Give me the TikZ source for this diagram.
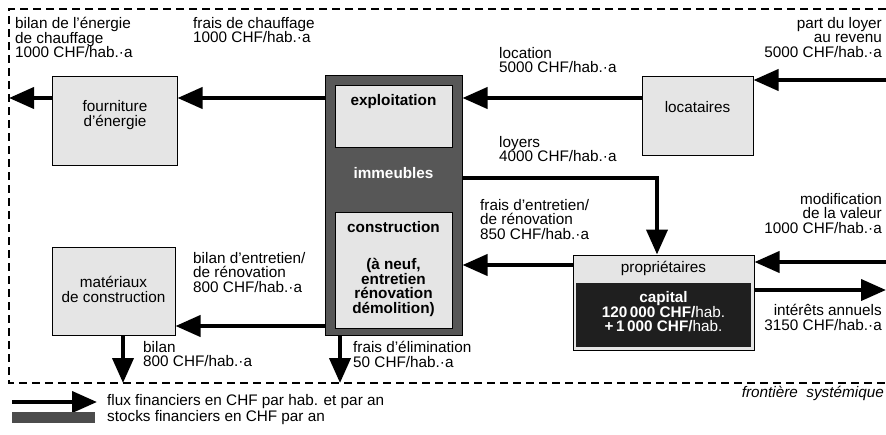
\documentclass[tikz,border=0pt]{standalone}
\usepackage{fontspec}
\setmainfont{Liberation Sans}
\usetikzlibrary{arrows.meta}
\newcommand\fs{\fontsize{15.3}{14.6}\selectfont}
\begin{document}
\begin{tikzpicture}[x=1pt,y=-1pt,
  flow/.style={line width=4pt, line join=miter, -{Triangle[length=25pt,width=21pt]}},
  border/.style={line width=1.1pt, dash pattern=on 8pt off 5pt},
  lightbox/.style={draw, line width=1pt, fill=black!10, inner sep=0},
  darkbox/.style={draw, line width=1pt, fill=black!66, inner sep=0},
  capbox/.style={fill=black!88, inner sep=0},
  lbl/.style={align=left, anchor=north west, inner sep=0, font=\fs},
  rlbl/.style={align=right, anchor=north east, inner sep=0, font=\fs},
  txt/.style={align=center, inner sep=0, font=\fs},
  btxt/.style={align=center, inner sep=0, font=\fs\bfseries},
]
\useasboundingbox (0,0) rectangle (886,434);
% system border
\draw[border] (886,9) -- (9,9) -- (9,383) -- (886,383);
% coordinates
\coordinate (Lb) at (9,98);
\coordinate (yA) at (0,98);
\coordinate (Rin1) at (886,80);
\coordinate (kL) at (657,178);
\coordinate (yP) at (0,265);
\coordinate (Rin2) at (886,262);
\coordinate (Rout) at (886,290);
\coordinate (yM) at (0,326);
\coordinate (bM) at (123,383);
\coordinate (bI) at (340,383);
\coordinate (legA) at (12,402);
\coordinate (legB) at (97,402);
% boxes
\node[lightbox, minimum width=125, minimum height=89] (fourn) at (114.5,120.5) {};
\node[txt] (fournT) at (115,115) {fourniture\\d'énergie};
\node[lightbox, minimum width=111, minimum height=79] (loc) at (697.5,115.5) {};
\node[txt] (locT) at (697.5,107) {locataires};
\node[lightbox, minimum width=123, minimum height=88] (mat) at (113.5,291) {};
\node[txt] (matT) at (113.5,289.5) {matériaux\\de construction};
\node[darkbox, minimum width=137, minimum height=260] (imm) at (393.5,205) {};
\node[lightbox, line width=0.6pt, minimum width=117, minimum height=62] (expl) at (393.5,116) {};
\node[btxt] (explT) at (393.5,102) {exploitation};
\node[btxt, text=white] (immT) at (393.5,173) {immeubles};
\node[lightbox, line width=0.6pt, minimum width=117, minimum height=116] (constr) at (393.5,270) {};
\node[btxt] (constrT) at (393.5,227) {construction};
\node[btxt] (constrT2) at (393.5,287.5) {(à neuf,\\entretien\\rénovation\\démolition)};
\node[lightbox, minimum width=181, minimum height=95] (prop) at (663.5,302.5) {};
\node[txt] (propT) at (663.5,268) {propriétaires};
\node[capbox, minimum width=175, minimum height=64] (cap) at (663.5,315) {};
\node[txt, text=white] (capT) at (663.5,312) {\textbf{capital}\\\textbf{120\,000 CHF/}hab.\\\textbf{+\,1\,000 CHF/}hab.};
% flows
\draw[flow] (fourn.west |- Lb) -- (Lb);
\draw[flow] (imm.west |- yA) -- (fourn.east |- yA);
\draw[flow] (loc.west |- yA) -- (imm.east |- yA);
\draw[flow] (Rin1) -- (loc.east |- Rin1);
\draw[flow] (imm.east |- kL) -| (prop.north -| kL);
\draw[flow] (prop.west |- yP) -- (imm.east |- yP);
\draw[flow] (Rin2) -- (prop.east |- Rin2);
\draw[flow] (prop.east |- Rout) -- (Rout);
\draw[flow] (imm.west |- yM) -- (mat.east |- yM);
\draw[flow] (mat.south -| bM) -- (bM);
\draw[flow] (imm.south -| bI) -- (bI);
% labels
\node[lbl] (l1) at (15,17) {bilan de l'énergie\\de chauffage\\1000 CHF/hab.·a};
\node[lbl] (l2) at (193,17) {frais de chauffage\\1000 CHF/hab.·a};
\node[lbl] (l3) at (499,47) {location\\5000 CHF/hab.·a};
\node[rlbl] (l4) at (882,17) {part du loyer\\au revenu\\5000 CHF/hab.·a};
\node[lbl] (l5) at (499,136) {loyers\\4000 CHF/hab.·a};
\node[lbl] (l6) at (480,199) {frais d'entretien/\\de rénovation\\850 CHF/hab.·a};
\node[rlbl] (l7) at (882,193) {modification\\de la valeur\\1000 CHF/hab.·a};
\node[rlbl] (l8) at (882,304) {intérêts annuels\\3150 CHF/hab.·a};
\node[lbl] (l9) at (193,252) {bilan d'entretien/\\de rénovation\\800 CHF/hab.·a};
\node[lbl] (l10) at (143,341) {bilan\\800 CHF/hab.·a};
\node[lbl] (l11) at (353,341) {frais d'élimination\\50 CHF/hab.·a};
\node[anchor=east, inner sep=0, font=\fs\itshape] (front) at (884,393) {frontière\ \ systémique};
% legend
\draw[flow] (legA) -- (legB);
\node[anchor=west, inner sep=0, font=\fs] (leg1) at (107,402) {flux financiers en CHF par hab. et par an};
\node[fill=black!70, inner sep=0, minimum width=83, minimum height=11] (legbar) at (53.5,417.5) {};
\node[anchor=west, inner sep=0, font=\fs] (leg2) at (107,417.5) {stocks financiers en CHF par an};
\end{tikzpicture}
\end{document}
